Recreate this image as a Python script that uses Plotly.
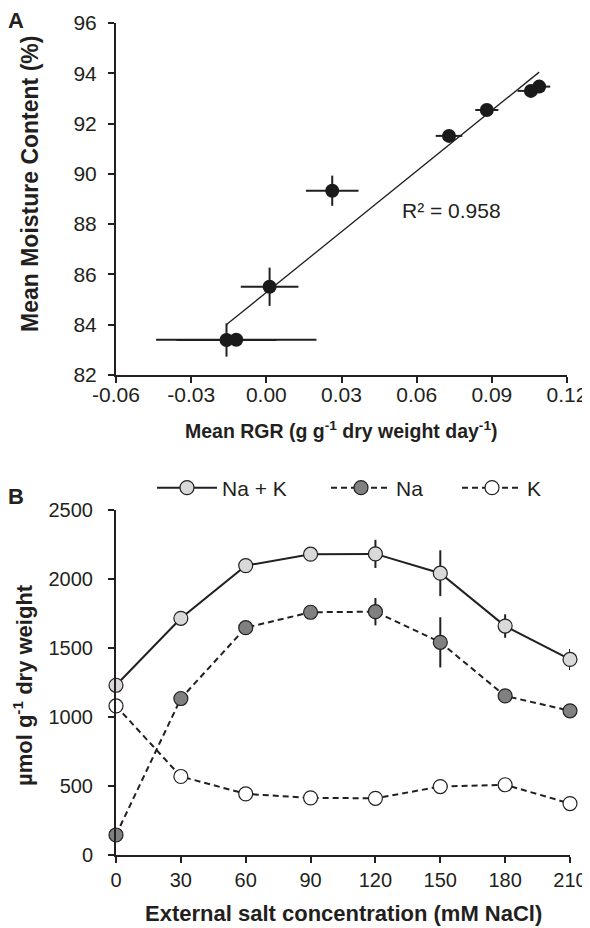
import numpy as np
import plotly.graph_objects as go

# ---------------- Panel A data ----------------
rgr = [-0.0159, -0.012, 0.0013, 0.0263, 0.0729, 0.088, 0.1056, 0.1089]
rgr_err = [0.020, 0.032, 0.0115, 0.0105, 0.0053, 0.0046, 0.0053, 0.0044]
moist = [83.39, 83.40, 85.51, 89.33, 91.51, 92.54, 93.30, 93.47]
moist_err = [0.66, 0.0, 0.76, 0.60, 0.20, 0.15, 0.20, 0.20]
r2_label = "R² = 0.958"
rgr_ticks = [-0.06, -0.03, 0.0, 0.03, 0.06, 0.09, 0.12]
rgr_tick_labels = ["-0.06", "-0.03", "0.00", "0.03", "0.06", "0.09", "0.12"]

# ---------------- Panel B data ----------------
salt = [0, 30, 60, 90, 120, 150, 180, 210]
na_k = [1230, 1715, 2097, 2180, 2182, 2042, 1659, 1417]
na_k_err = [0, 0, 0, 0, 102, 166, 85, 76]
na = [145, 1134, 1647, 1759, 1763, 1541, 1153, 1045]
na_err = [0, 0, 0, 0, 99, 182, 50, 45]
k = [1080, 569, 443, 414, 411, 496, 509, 373]
k_err = [0, 0, 0, 0, 0, 0, 0, 0]

INK = "#231f20"
FONT = "Liberation Sans, Arial, sans-serif"

# the page body has an 8px margin, so the figure is drawn 8px in from the corner
OFF = 8
W, H = 590 - OFF, 928 - OFF
ML, MR, MT, MB = 116 - OFF, 20, 23 - OFF, 73
PW = W - ML - MR
PH = H - MT - MB


def px(xs):
    return (xs - OFF - ML) / PW


def py(ys):
    return (H - MB - (ys - OFF)) / PH


fig = go.Figure()

# regression line
slope, intercept = np.polyfit(rgr, moist, 1)
xl = np.array([min(rgr), max(rgr)])
fig.add_trace(go.Scatter(x=xl, y=slope * xl + intercept, mode="lines",
                         line=dict(color=INK, width=1.3), showlegend=False,
                         xaxis="x", yaxis="y", hoverinfo="skip"))

fig.add_trace(go.Scatter(
    x=rgr, y=moist, mode="markers",
    marker=dict(color="#1a1a1a", size=14, line=dict(width=0)),
    error_x=dict(type="data", array=rgr_err, color=INK, thickness=2, width=0),
    error_y=dict(type="data", array=moist_err, color=INK, thickness=2, width=0),
    showlegend=False, xaxis="x", yaxis="y", cliponaxis=False))

dash = "6px,4px"
fig.add_trace(go.Scatter(
    x=salt, y=na_k, mode="lines+markers", name="Na + K",
    line=dict(color=INK, width=2),
    marker=dict(color="#d9d9d9", size=14, line=dict(color=INK, width=1.2)),
    error_y=dict(type="data", array=na_k_err, color=INK, thickness=2, width=0),
    xaxis="x2", yaxis="y2", cliponaxis=False, legend="legend"))
fig.add_trace(go.Scatter(
    x=salt, y=na, mode="lines+markers", name="Na",
    line=dict(color=INK, width=2, dash=dash),
    marker=dict(color="#808080", size=14, line=dict(color=INK, width=1.2)),
    error_y=dict(type="data", array=na_err, color=INK, thickness=2, width=0),
    xaxis="x2", yaxis="y2", cliponaxis=False, legend="legend2"))
fig.add_trace(go.Scatter(
    x=salt, y=k, mode="lines+markers", name="K",
    line=dict(color=INK, width=2, dash=dash),
    marker=dict(color="#ffffff", size=14, line=dict(color=INK, width=1.2)),
    error_y=dict(type="data", array=k_err, color=INK, thickness=2, width=0),
    xaxis="x2", yaxis="y2", cliponaxis=False, legend="legend3"))

axis_common = dict(showgrid=False, zeroline=False, showline=True, linecolor=INK,
                   linewidth=2, ticks="outside", ticklen=6, tickwidth=1.5,
                   tickcolor=INK, automargin=False)
tick_a = dict(family=FONT, size=21, color=INK)
tick_b = dict(family=FONT, size=20, color=INK)

legend_common = dict(orientation="h", bgcolor="rgba(0,0,0,0)", borderwidth=0,
                     font=dict(family=FONT, size=21, color=INK), itemwidth=60,
                     xanchor="left", yanchor="middle", yref="paper", xref="paper")


def title_ann(text, x, y, size, angle=0):
    return dict(text="<b>" + text + "</b>", x=px(x), y=py(y), xref="paper", yref="paper",
                showarrow=False, xanchor="center", yanchor="middle", textangle=angle,
                font=dict(family=FONT, size=size, color=INK))


fig.update_layout(
    template="none",
    width=W, height=H, paper_bgcolor="white", plot_bgcolor="white",
    margin=dict(l=ML, r=MR, t=MT, b=MB, autoexpand=False),
    font=dict(family=FONT, color=INK),
    xaxis=dict(domain=[0, px(567)], range=[-0.06, 0.12], tickmode="array",
               tickvals=rgr_ticks, ticktext=rgr_tick_labels, anchor="y",
               ticklabelstandoff=-6, tickfont=tick_a, **axis_common),
    yaxis=dict(domain=[py(375), 1], range=[82, 96], dtick=2, anchor="x",
               ticklabelstandoff=7, tickfont=tick_a, **axis_common),
    xaxis2=dict(domain=[0, 1], range=[0, 210], dtick=30, anchor="y2",
                ticklabelstandoff=0, tickfont=tick_b, **axis_common),
    yaxis2=dict(domain=[0, py(510)], range=[0, 2500], dtick=500, anchor="x2",
                ticklabelstandoff=11, tickfont=tick_b, **axis_common),
    legend=dict(x=px(152), y=py(488), **legend_common),
    legend2=dict(x=px(326), y=py(488), **legend_common),
    legend3=dict(x=px(457), y=py(488), **legend_common),
    annotations=[
        dict(text="<b>A</b>", x=px(16), y=py(20), xref="paper", yref="paper",
             showarrow=False, xanchor="center", yanchor="middle",
             font=dict(family=FONT, size=22, color=INK)),
        dict(text="<b>B</b>", x=px(16), y=py(496), xref="paper", yref="paper",
             showarrow=False, xanchor="center", yanchor="middle",
             font=dict(family=FONT, size=22, color=INK)),
        dict(text=r2_label, x=px(451), y=py(210), xref="paper", yref="paper",
             showarrow=False, xanchor="center", yanchor="middle",
             font=dict(family=FONT, size=21, color=INK)),
        title_ann("Mean Moisture Content (%)", 30, 184, 23, -90),
        title_ann("Mean RGR (g g<sup>-1</sup> dry weight day<sup>-1</sup>)", 341, 430, 19.5),
        title_ann("µmol g<sup>-1</sup> dry weight", 23, 685, 22, -90),
        title_ann("External salt concentration (mM NaCl)", 343, 914, 22),
    ],
)

fig.write_html("out.html")
